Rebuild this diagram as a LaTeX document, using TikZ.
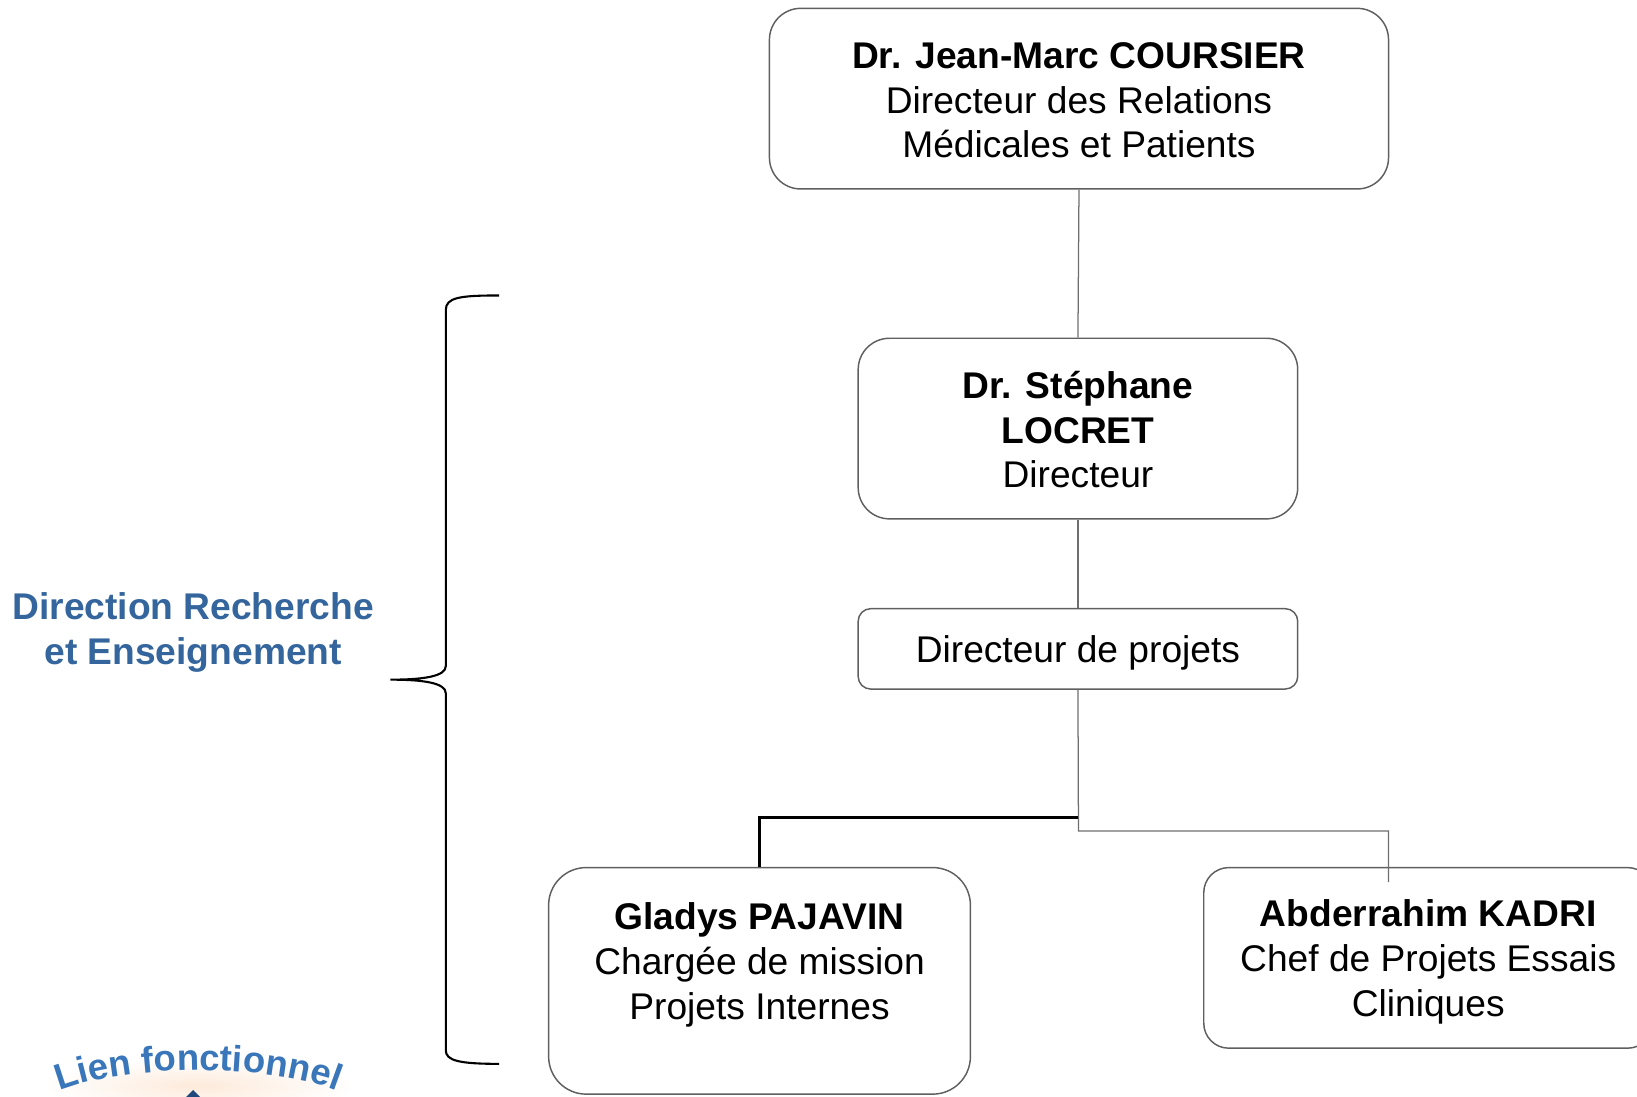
\documentclass[tikz,border=0pt]{standalone}
\usepackage{fontspec}
\setmainfont{Liberation Sans}
\usetikzlibrary{decorations.text}
\definecolor{boxgray}{RGB}{95,95,95}
\definecolor{linegray}{RGB}{110,110,110}
\definecolor{dirblue}{RGB}{52,101,156}
\definecolor{lienblue}{RGB}{58,118,186}
\definecolor{tipblue}{RGB}{31,73,125}
\definecolor{glow}{RGB}{253,234,218}
\tikzset{
  orgbox/.style={draw=boxgray, line width=0.7pt, fill=white, inner sep=0pt},
  conn/.style={draw=linegray, line width=0.6pt},
  connb/.style={draw=black, line width=1pt},
  bracestyle/.style={draw=black, line width=1pt},
  bluelabel/.style={align=center, text=dirblue, font=\fontsize{17.8}{21.5}\selectfont\bfseries},
  boxtext/.style={align=center, inner sep=0pt, font=\fontsize{17.8}{21.5}\selectfont}
}
\begin{document}
\begin{tikzpicture}[x=0.5pt, y=-0.5pt]
\useasboundingbox (0,0) rectangle (1568,1050);

% boxes
\node[orgbox, rounded corners=15pt, minimum width=296.5pt, minimum height=86.5pt] (top) at (1033.5,94.5) {};
\node[boxtext] (topt) at (1033.5,96)
  {\textbf{Dr. Jean-Marc COURSIER}\\Directeur des Relations\\Médicales et Patients};
\node[orgbox, rounded corners=15pt, minimum width=210.5pt, minimum height=86.5pt] (loc) at (1032.5,410.5) {};
\node[boxtext] (loct) at (1032.5,411.5)
  {\textbf{Dr. Stéphane}\\\textbf{LOCRET}\\Directeur};
\node[orgbox, rounded corners=6pt, minimum width=210.5pt, minimum height=38.5pt] (dp) at (1032.5,621.5) {};
\node[boxtext] (dpt) at (1032.5,625.5) {Directeur de projets};
\node[orgbox, rounded corners=18pt, minimum width=202pt, minimum height=108.5pt] (gla) at (727.5,939.5) {};
\node[boxtext] (glat) at (727.5,924)
  {\textbf{Gladys PAJAVIN}\\Chargée de mission\\Projets Internes};
\node[orgbox, rounded corners=12pt, minimum width=215pt, minimum height=86.5pt] (kad) at (1368,917.5) {};
\node[boxtext] (kadt) at (1368,921.5)
  {\textbf{Abderrahim KADRI}\\Chef de Projets Essais\\Cliniques};

% connectors
\coordinate (j1) at (1033,783);
\coordinate (j2) at (1033,796);
\coordinate (j3) at (1330,796);
\coordinate (kend) at (1330,845);
\draw[conn] (top.south) -- (loc.north);
\draw[conn] (loc.south) -- (dp.north);
\draw[conn] (dp.south) -- (j2) -- (j3) -- (kend);
\draw[connb] (j1) -| (gla.north);

% brace
\coordinate (bt) at (478,283);
\coordinate (bm) at (374,651);
\coordinate (bb) at (478,1019);
\draw[bracestyle] (bt) .. controls (440,283) and (427,285) .. (427,297)
  -- (427,638) .. controls (427,648) and (405,651) .. (bm)
  .. controls (405,651) and (427,654) .. (427,664)
  -- (427,1006) .. controls (427,1016) and (440,1019) .. (bb);

% label
\node[bluelabel] (dir) at (185,605.5) {Direction Recherche\\et Enseignement};

% Lien fonctionnel
\shade[inner color=glow, outer color=white] (190,1040) ellipse [x radius=150, y radius=26];
\coordinate (la) at (52,1047);
\coordinate (lb) at (328,1047);
\path[decorate, decoration={text along path, text align=center,
  text={|\fontsize{17.5}{20}\selectfont\bfseries\color{lienblue}|Lien fonctionnel}}]
  (la) .. controls (118,1018) and (262,1018) .. (lb);
\coordinate (tipa) at (185,1044);
\coordinate (tipb) at (175,1054);
\coordinate (tipc) at (195,1054);
\fill[tipblue] (tipa) -- (tipb) -- (tipc) -- cycle;
\end{tikzpicture}
\end{document}
